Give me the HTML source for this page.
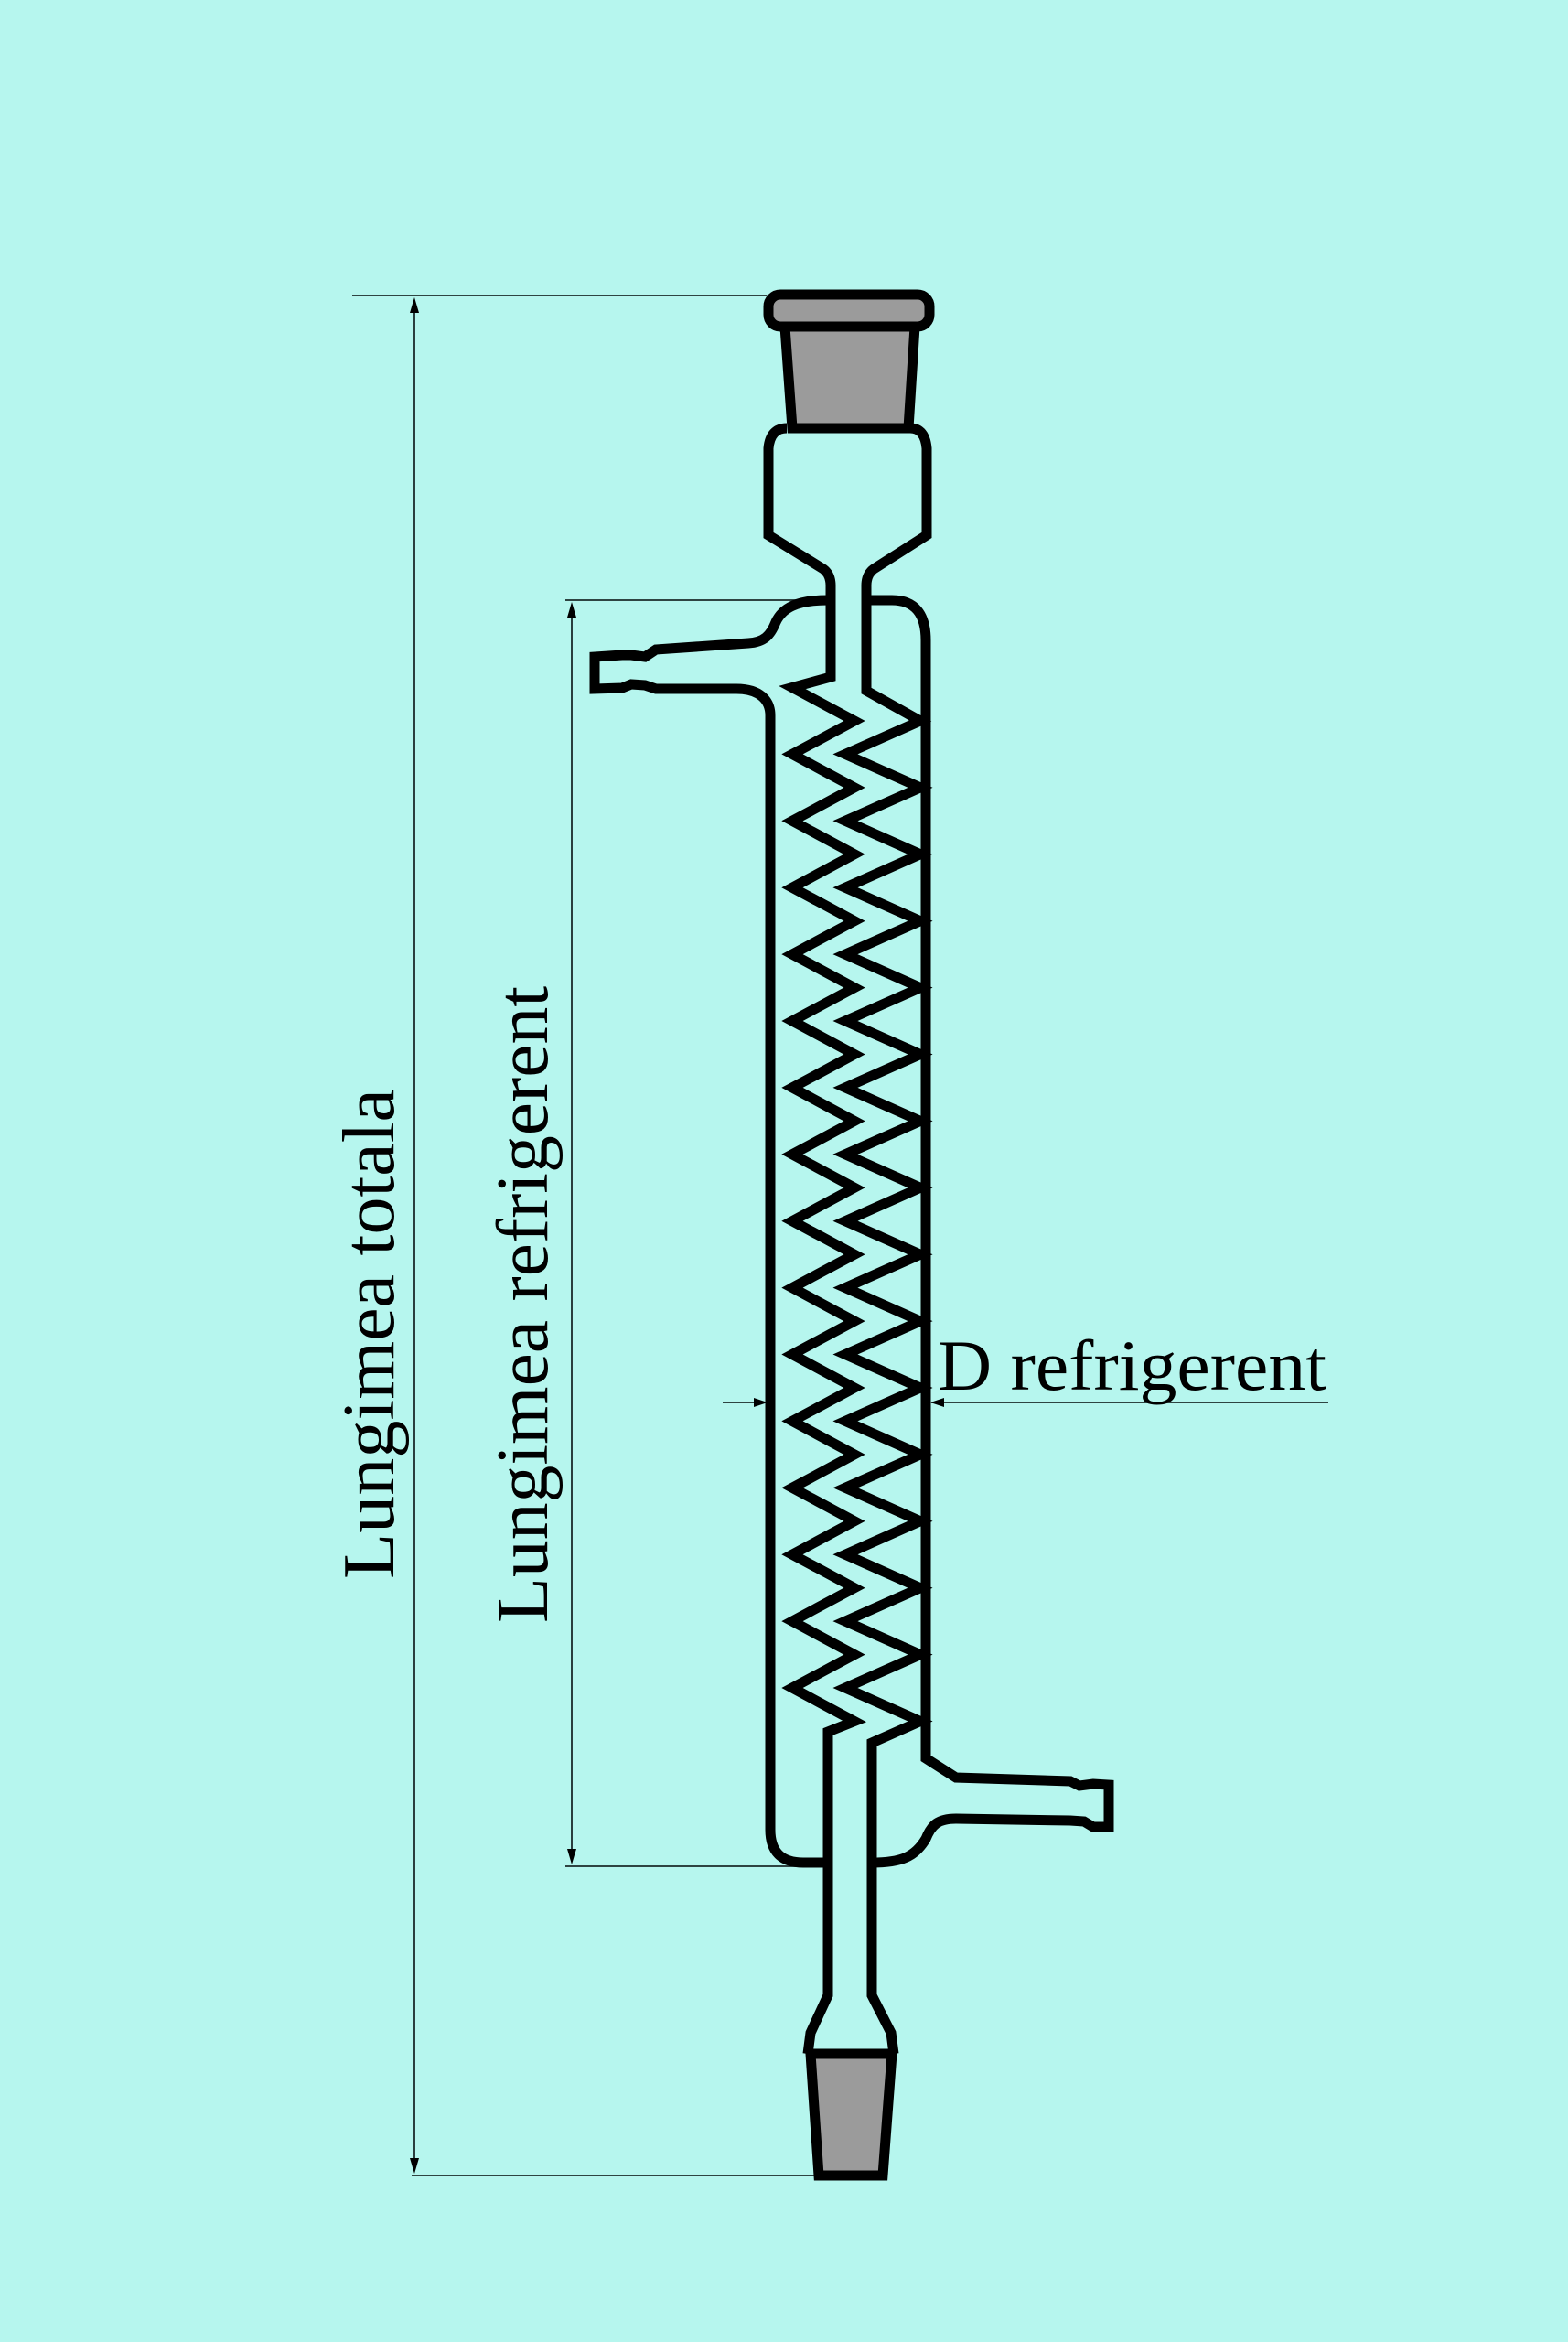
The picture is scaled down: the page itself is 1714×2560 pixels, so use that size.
<!DOCTYPE html>
<html><head><meta charset="utf-8"><style>
html,body{margin:0;padding:0;background:#b6f6ee;}
svg{display:block;}
text{font-family:"Liberation Serif",serif;fill:#000;}
</style></head><body>
<svg width="1714" height="2560" viewBox="0 0 1714 2560" xmlns="http://www.w3.org/2000/svg">
<rect width="1714" height="2560" fill="#b6f6ee"/>
<g stroke="#1a2a2a" stroke-width="1.8" fill="none">
  <line x1="385" y1="323" x2="838" y2="323"/>
  <line x1="450" y1="2378" x2="895" y2="2378"/>
  <line x1="453" y1="330" x2="453" y2="2370"/>
  <line x1="618" y1="656" x2="870" y2="656"/>
  <line x1="618" y1="2040" x2="880" y2="2040"/>
  <line x1="625" y1="663" x2="625" y2="2033"/>
  <line x1="790" y1="1533" x2="836" y2="1533"/>
  <line x1="1018" y1="1533" x2="1452" y2="1533"/>
</g>
<g fill="#000">
  <polygon points="453,325 448,342 458,342"/>
  <polygon points="453,2376 448,2359 458,2359"/>
  <polygon points="625,658 620,675 630,675"/>
  <polygon points="625,2038 620,2021 630,2021"/>
  <polygon points="839,1533 824,1528 824,1538"/>
  <polygon points="1017,1533 1032,1528 1032,1538"/>
</g>
<g stroke="#000" stroke-width="11" stroke-linejoin="miter" stroke-linecap="butt" fill="none">
  <rect x="840" y="322" width="176" height="35" rx="13" fill="#9b9b9b"/>
  <polygon points="858,357 1000,357 993,468 866,468" fill="#9b9b9b"/>
  <path d="M860,468 Q842,468 840,490 L840,585 L900,622 Q908,628 908,640 L908,740 L866,751.5 L934,788 L866,824.4 L934,860.9 L866,897.3 L934,933.8 L866,970.2 L934,1006.7 L866,1043.1 L934,1079.6 L866,1116 L934,1152.5 L866,1188.9 L934,1225.4 L866,1261.8 L934,1298.3 L866,1334.7 L934,1371.2 L866,1407.6 L934,1444.1 L866,1480.5 L934,1517 L866,1553.4 L934,1589.9 L866,1626.3 L934,1662.8 L866,1699.2 L934,1735.7 L866,1772.1 L934,1808.6 L866,1845 L934,1881.5 L905,1893 L905,2181 L886,2222 L883,2245"/>
  <path d="M995,468 Q1011,468 1013,490 L1013,585 L955,622 Q947,628 947,640 L947,755 L1006,788 L924,824.4 L1006,860.9 L924,897.3 L1006,933.8 L924,970.2 L1006,1006.7 L924,1043.1 L1006,1079.6 L924,1116 L1006,1152.5 L924,1188.9 L1006,1225.4 L924,1261.8 L1006,1298.3 L924,1334.7 L1006,1371.2 L924,1407.6 L1006,1444.1 L924,1480.5 L1006,1517 L924,1553.4 L1006,1589.9 L924,1626.3 L1006,1662.8 L924,1699.2 L1006,1735.7 L924,1772.1 L1006,1808.6 L924,1845 L1006,1881.5 L953,1905 L953,2181 L974,2222 L977,2245"/>
  <path d="M905,656 C870,656 855,665 848,680 C842,695 835,702 818,703 L717,710 L705,718 L690,716 L680,716 L650,718 L650,753 L680,752 L690,748 L705,749 L717,753 L805,753 C830,753 842,765 842,782 L842,2000 Q842,2036 878,2036 L905,2036"/>
  <path d="M947,656 L975,656 Q1012,656 1012,700 L1012,1922 L1045,1943 L1170,1947 L1180,1952 L1195,1950 L1212,1951 L1212,1997 L1195,1997 L1185,1991 L1170,1990 L1045,1988 C1025,1988 1018,1995 1012,2010 C1000,2030 985,2036 953,2036"/>
  <polygon points="886,2245 975,2245 965,2378 895,2378" fill="#9b9b9b"/>
</g>
<text x="1025" y="1519" font-size="78" textLength="425" lengthAdjust="spacingAndGlyphs">D refrigerent</text>
<text transform="translate(430,1726) rotate(-90)" font-size="80" textLength="536" lengthAdjust="spacingAndGlyphs">Lungimea totala</text>
<text transform="translate(598,1774) rotate(-90)" font-size="80" textLength="696" lengthAdjust="spacingAndGlyphs">Lungimea refrigerent</text>
</svg>
</body></html>
